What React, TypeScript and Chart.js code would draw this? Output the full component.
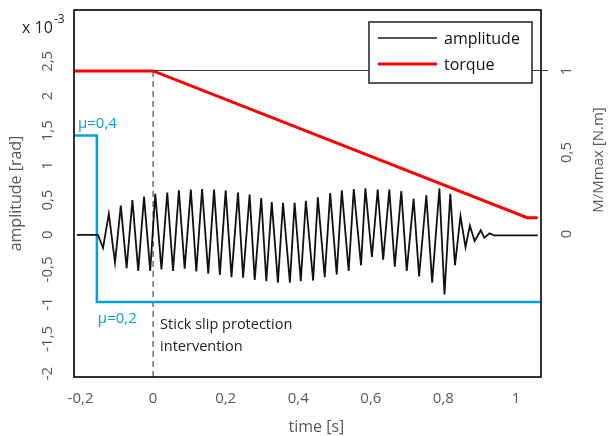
import { useEffect, useRef } from "react";
import { Chart, registerables } from "chart.js";

Chart.register(...registerables);

// ---- data ----
// amplitude in units of 1e-3 rad (axis shows "x 10^-3")
const AMP_TIME = [
  -0.21, -0.152, -0.138, -0.122, -0.105, -0.089, -0.073, -0.057, -0.041, -0.025, -0.008,
  0.006, 0.023, 0.039, 0.055, 0.071, 0.087, 0.104, 0.119, 0.135, 0.152, 0.168, 0.184,
  0.2, 0.216, 0.234, 0.248, 0.266, 0.28, 0.298, 0.312, 0.327, 0.344, 0.358, 0.377,
  0.39, 0.407, 0.421, 0.441, 0.454, 0.473, 0.488, 0.506, 0.52, 0.539, 0.553, 0.573,
  0.585, 0.603, 0.619, 0.634, 0.651, 0.666, 0.684, 0.699, 0.718, 0.733, 0.753, 0.769,
  0.789, 0.803, 0.819, 0.832, 0.847, 0.861, 0.873, 0.886, 0.903, 0.913, 0.927, 0.94, 1.06,
];
const AMP_VALUES = [
  0, 0, -0.19, 0.3, -0.4, 0.42, -0.48, 0.5, -0.52, 0.55, -0.52,
  0.59, -0.5, 0.61, -0.52, 0.64, -0.49, 0.65, -0.53, 0.66, -0.56, 0.65, -0.58,
  0.64, -0.61, 0.61, -0.62, 0.58, -0.65, 0.53, -0.67, 0.47, -0.69, 0.46, -0.69,
  0.46, -0.67, 0.49, -0.66, 0.54, -0.61, 0.6, -0.57, 0.64, -0.52, 0.66, -0.44,
  0.67, -0.32, 0.65, -0.36, 0.65, -0.46, 0.63, -0.52, 0.52, -0.6, 0.57, -0.69,
  0.67, -0.86, 0.59, -0.44, 0.27, -0.18, 0.13, -0.09, 0.065, -0.045, 0.02, -0.01, -0.01,
];
// torque, normalised M/Mmax (right axis)
const TORQUE_TIME = [-0.218, 0, 1.031, 1.06];
const TORQUE_VALUES = [1, 1, 0.1, 0.1];
// friction coefficient step (drawn against the left axis)
const MU_TIME = [-0.218, -0.155, -0.155, 1.069];
const MU_VALUES = [1.43, 1.43, -0.97, -0.97];
// stick-slip protection intervention marker (right axis)
const MARK_TIME = [0, 0];
const MARK_VALUES = [1, -0.877];

const X_RANGE = [-0.218, 1.069];
const LEFT_RANGE = [-2.05, 3.24];
const RIGHT_RANGE = [-0.877, 1.374];
const X_TICKS = [-0.2, 0, 0.2, 0.4, 0.6, 0.8, 1];
const LEFT_TICKS = [-2, -1.5, -1, -0.5, 0, 0.5, 1, 1.5, 2, 2.5];
const RIGHT_TICKS = [0, 0.5, 1];

const LEGEND_LABELS = ["amplitude", "torque"];
const MU_LABELS = ["μ=0,4", "μ=0,2"];
const NOTE_LINES = ["Stick slip protection", "intervention"];
const X_TITLE = "time [s]";
const LEFT_TITLE = "amplitude [rad]";
const RIGHT_TITLE = "M/Mmax [N.m]";

const FONT = "'Open Sans', sans-serif";
const GRAY = "#595959";
const BLUE = "#00a0e3";
const RED = "#ff0000";

const fmt = (v: number) => String(v).replace(".", ",");
const pts = (xs: number[], ys: number[]) => xs.map((x, i) => ({ x, y: ys[i] }));

const rotText = (ctx: CanvasRenderingContext2D, text: string, x: number, y: number) => {
  ctx.save();
  ctx.translate(x, y);
  ctx.rotate(-Math.PI / 2);
  ctx.textAlign = "center";
  ctx.textBaseline = "middle";
  ctx.fillText(text, 0, 0);
  ctx.restore();
};

const overlay = {
  id: "overlay",
  afterDraw(chart: any) {
    const { ctx, chartArea: a, scales } = chart;
    const xs = scales.x;
    const yl = scales.y;
    const yr = scales.y2;
    ctx.save();

    // frame
    ctx.strokeStyle = "#000";
    ctx.lineWidth = 1.6;
    ctx.strokeRect(a.left, a.top, a.right - a.left, a.bottom - a.top);

    // legend
    const lx = a.right - 172;
    const ly = a.top + 12;
    const lw = 163;
    const lh = 61;
    ctx.fillStyle = "#fff";
    ctx.fillRect(lx, ly, lw, lh);
    ctx.strokeStyle = "#222";
    ctx.lineWidth = 1.5;
    ctx.strokeRect(lx, ly, lw, lh);
    const colors = ["#1a1a1a", RED];
    const widths = [1.5, 3];
    ctx.font = `16px ${FONT}`;
    ctx.textAlign = "left";
    ctx.textBaseline = "middle";
    LEGEND_LABELS.forEach((lab, i) => {
      const yy = ly + 16 + i * 26;
      ctx.beginPath();
      ctx.strokeStyle = colors[i];
      ctx.lineWidth = widths[i];
      ctx.moveTo(lx + 9, yy);
      ctx.lineTo(lx + 68, yy);
      ctx.stroke();
      ctx.fillStyle = "#111";
      ctx.fillText(lab, lx + 75, yy + 1);
    });

    // y tick labels (rotated)
    ctx.fillStyle = GRAY;
    ctx.font = `15px ${FONT}`;
    LEFT_TICKS.forEach((v) => rotText(ctx, fmt(v), a.left - 26, yl.getPixelForValue(v)));
    RIGHT_TICKS.forEach((v) => rotText(ctx, fmt(v), a.right + 26, yr.getPixelForValue(v)));

    // axis titles
    ctx.font = `16px ${FONT}`;
    rotText(ctx, LEFT_TITLE, 16, (a.top + a.bottom) / 2);
    ctx.textAlign = "center";
    ctx.textBaseline = "middle";
    ctx.fillText(X_TITLE, xs.getPixelForValue(0.45), a.bottom + 50);
    ctx.font = `15px ${FONT}`;
    rotText(ctx, RIGHT_TITLE, 599, a.top + 150);

    // exponent
    ctx.fillStyle = "#222";
    ctx.textAlign = "left";
    ctx.textBaseline = "alphabetic";
    ctx.font = `16px ${FONT}`;
    ctx.fillText("x 10", a.left - 52, a.top + 23);
    ctx.font = `12px ${FONT}`;
    ctx.fillText("-3", a.left - 20, a.top + 13);

    // mu labels
    ctx.fillStyle = BLUE;
    ctx.font = `15px ${FONT}`;
    ctx.textBaseline = "middle";
    ctx.fillText(MU_LABELS[0], xs.getPixelForValue(MU_TIME[0]) + 4, yl.getPixelForValue(MU_VALUES[0]) - 12);
    ctx.fillText(MU_LABELS[1], xs.getPixelForValue(MU_TIME[1]) + 1, yl.getPixelForValue(MU_VALUES[2]) + 17);

    // intervention note
    ctx.fillStyle = "#222";
    ctx.font = `14.5px ${FONT}`;
    NOTE_LINES.forEach((t, i) => {
      ctx.fillText(t, xs.getPixelForValue(0) + 7, yl.getPixelForValue(MU_VALUES[2]) + 23 + i * 22);
    });

    ctx.restore();
  },
};

export default function App() {
  const ref = useRef<HTMLCanvasElement>(null);
  useEffect(() => {
    const chart = new Chart(ref.current as HTMLCanvasElement, {
      type: "line",
      data: {
        datasets: [
          {
            label: "torque",
            data: pts(TORQUE_TIME, TORQUE_VALUES),
            yAxisID: "y2",
            borderColor: RED,
            borderWidth: 3,
            pointRadius: 0,
            tension: 0,
            order: 1,
          },
          {
            label: "amplitude",
            data: pts(AMP_TIME, AMP_VALUES),
            yAxisID: "y",
            borderColor: "#111",
            borderWidth: 1.8,
            pointRadius: 0,
            tension: 0,
            order: 2,
          },
          {
            label: "mu",
            data: pts(MU_TIME, MU_VALUES),
            yAxisID: "y",
            borderColor: BLUE,
            borderWidth: 2.5,
            pointRadius: 0,
            tension: 0,
            order: 3,
          },
          {
            label: "intervention",
            data: pts(MARK_TIME, MARK_VALUES),
            yAxisID: "y2",
            borderColor: "#222",
            borderWidth: 1,
            borderDash: [6, 4],
            pointRadius: 0,
            tension: 0,
            order: 4,
          },
        ],
      } as any,
      options: {
        animation: false,
        responsive: false,
        layout: { padding: { top: 10, left: 0, right: 0, bottom: 0 } },
        plugins: { legend: { display: false }, tooltip: { enabled: false } },
        scales: {
          x: {
            type: "linear",
            min: X_RANGE[0],
            max: X_RANGE[1],
            afterBuildTicks: (s: any) => {
              s.ticks = X_TICKS.map((value) => ({ value }));
            },
            afterFit: (s: any) => {
              s.height = 59;
            },
            grid: { display: false, drawTicks: false },
            border: { display: false },
            ticks: {
              padding: 13,
              color: GRAY,
              font: { size: 15, family: FONT },
              maxRotation: 0,
              autoSkip: false,
              callback: (v: any) => fmt(Number(v)),
            },
          },
          y: {
            type: "linear",
            position: "left",
            min: LEFT_RANGE[0],
            max: LEFT_RANGE[1],
            afterBuildTicks: (s: any) => {
              s.ticks = LEFT_TICKS.map((value) => ({ value }));
            },
            afterFit: (s: any) => {
              s.width = 74;
            },
            ticks: { display: false },
            grid: { display: false, drawTicks: false },
            border: { display: false },
          },
          y2: {
            type: "linear",
            position: "right",
            min: RIGHT_RANGE[0],
            max: RIGHT_RANGE[1],
            afterBuildTicks: (s: any) => {
              s.ticks = RIGHT_TICKS.map((value) => ({ value }));
            },
            afterFit: (s: any) => {
              s.width = 67;
            },
            ticks: { display: false },
            grid: {
              display: true,
              drawOnChartArea: true,
              drawTicks: true,
              tickLength: 7,
              lineWidth: 1,
              color: (c: any) => (c.tick && c.tick.value === 1 ? "#3a3a3a" : "rgba(0,0,0,0)"),
            },
            border: { display: false },
          },
        },
      } as any,
      plugins: [overlay],
    });
    return () => chart.destroy();
  }, []);
  return (
    <div style={{ position: "fixed", left: 0, top: 0, width: 608, height: 436, background: "#fff" }}>
      <canvas ref={ref} width={608} height={436} style={{ display: "block" }} />
    </div>
  );
}
